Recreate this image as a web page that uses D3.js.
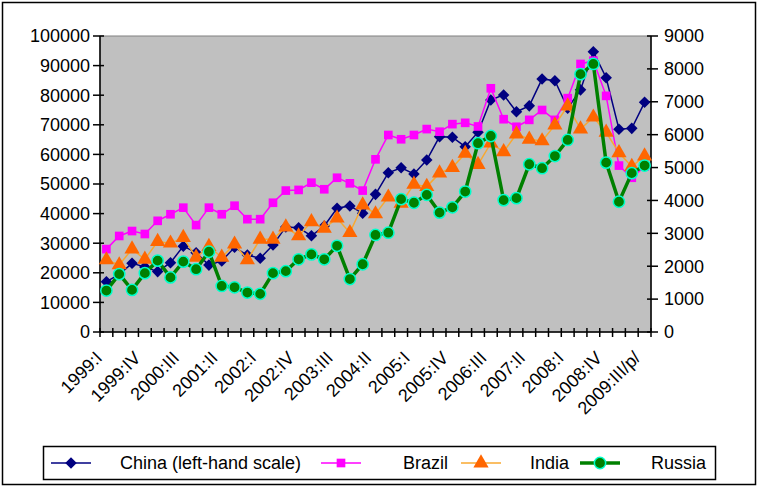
<!DOCTYPE html>
<html>
<head>
<meta charset="utf-8">
<script src="https://cdn.jsdelivr.net/npm/d3@7"></script>
<style>
  body { margin: 0; background: #fff; }
  text { font-family: "Liberation Sans", Arial, sans-serif; fill: #000; }
</style>
</head>
<body>
<svg width="759" height="488"></svg>
<script>
const quarters = ["1999:I","1999:II","1999:III","1999:IV","2000:I","2000:II","2000:III","2000:IV",
  "2001:I","2001:II","2001:III","2001:IV","2002:I","2002:II","2002:III","2002:IV",
  "2003:I","2003:II","2003:III","2003:IV","2004:I","2004:II","2004:III","2004:IV",
  "2005:I","2005:II","2005:III","2005:IV","2006:I","2006:II","2006:III","2006:IV",
  "2007:I","2007:II","2007:III","2007:IV","2008:I","2008:II","2008:III","2008:IV",
  "2009:I","2009:II","2009:III/p/"];

const shownLabels = ["1999:I","1999:IV","2000:III","2001:II","2002:I","2002:IV","2003:III",
  "2004:II","2005:I","2005:IV","2006:III","2007:II","2008:I","2008:IV","2009:III/p/"];

// China on the left-hand scale, the others on the right
const china = [17000, 19500, 23200, 22000, 20400, 23400, 29000, 26800, 22600, 24000,
  28600, 26000, 24900, 29400, 35500, 35200, 32500, 35800, 41800, 42600,
  40100, 46500, 53800, 55500, 53400, 58100, 66000, 65800, 62600, 67500,
  78400, 80100, 74400, 76400, 85500, 84900, 75600, 81800, 94700, 85900,
  68500, 68800, 77600];
const brazil = [2520, 2920, 3070, 2980, 3380, 3580, 3780, 3250, 3780, 3580,
  3840, 3430, 3430, 3930, 4300, 4320, 4540, 4340, 4690, 4520,
  4300, 5250, 5990, 5860, 5990, 6170, 6090, 6320, 6360, 6250,
  7410, 6470, 6240, 6450, 6750, 6450, 7110, 8150, 8250, 7180,
  5060, 4690, 5030];
const india = [2190, 2040, 2520, 2210, 2750, 2700, 2870, 2270, 2600, 2270,
  2670, 2190, 2820, 2820, 3190, 2920, 3350, 3150, 3460, 3020,
  3860, 3590, 4100, 3910, 4490, 4420, 4830, 5000, 5430, 5090,
  5740, 5480, 6020, 5860, 5810, 6290, 6870, 6170, 6530, 6070,
  5450, 5030, 5350];
const russia = [1260, 1760, 1280, 1790, 2170, 1660, 2140, 1910, 2440, 1400,
  1360, 1200, 1160, 1790, 1850, 2210, 2360, 2210, 2620, 1610,
  2060, 2950, 3020, 4040, 3930, 4170, 3630, 3790, 4270, 5740,
  5960, 4010, 4070, 5100, 4980, 5350, 5840, 7840, 8150, 5150,
  3960, 4830, 5060];

const leftTicks = [0, 10000, 20000, 30000, 40000, 50000, 60000, 70000, 80000, 90000, 100000];
const rightTicks = [0, 1000, 2000, 3000, 4000, 5000, 6000, 7000, 8000, 9000];

const svg = d3.select("svg");
const plot = { left: 100, right: 651, top: 36, bottom: 332 };

const x = d3.scaleBand().domain(quarters).range([plot.left, plot.right]).padding(0);
const yL = d3.scaleLinear().domain([0, 100000]).range([plot.bottom, plot.top]);
const yR = d3.scaleLinear().domain([0, 9000]).range([plot.bottom, plot.top]);
const cx = q => x(q) + x.bandwidth() / 2;

// outer frame
svg.append("rect")
  .attr("x", 2.5).attr("y", 2.5).attr("width", 753).attr("height", 482)
  .attr("fill", "#fff").attr("stroke", "#000").attr("stroke-width", 1.5);

// plot area
svg.append("rect")
  .attr("x", plot.left).attr("y", plot.top)
  .attr("width", plot.right - plot.left).attr("height", plot.bottom - plot.top)
  .attr("fill", "#c0c0c0").attr("stroke", "#808080").attr("stroke-width", 1);

// axes
const axes = svg.append("g").attr("stroke", "#000").attr("stroke-width", 1.5);
axes.append("line").attr("x1", plot.left).attr("x2", plot.left).attr("y1", plot.top).attr("y2", plot.bottom);
axes.append("line").attr("x1", plot.right).attr("x2", plot.right).attr("y1", plot.top).attr("y2", plot.bottom);
axes.append("line").attr("x1", plot.left).attr("x2", plot.right).attr("y1", plot.bottom).attr("y2", plot.bottom);

axes.selectAll(".tl").data(leftTicks).enter().append("line")
  .attr("x1", plot.left - 7).attr("x2", plot.left + 4)
  .attr("y1", d => yL(d)).attr("y2", d => yL(d));
axes.selectAll(".tr").data(rightTicks).enter().append("line")
  .attr("x1", plot.right - 4).attr("x2", plot.right + 7)
  .attr("y1", d => yR(d)).attr("y2", d => yR(d));

const bounds = quarters.map(q => x(q)).concat([plot.right]);
axes.selectAll(".tb").data(bounds).enter().append("line")
  .attr("x1", d => d).attr("x2", d => d)
  .attr("y1", plot.bottom - 4).attr("y2", plot.bottom + 5);

svg.selectAll(".ll").data(leftTicks).enter().append("text")
  .attr("x", plot.left - 10).attr("y", d => yL(d)).attr("dy", "0.35em")
  .attr("text-anchor", "end").attr("font-size", 18)
  .text(d => d);
svg.selectAll(".rl").data(rightTicks).enter().append("text")
  .attr("x", plot.right + 13).attr("y", d => yR(d)).attr("dy", "0.35em")
  .attr("font-size", 18)
  .text(d => d);

svg.selectAll(".xl").data(shownLabels).enter().append("text")
  .attr("transform", d => `translate(${cx(d) - 3},${plot.bottom + 27}) rotate(-45)`)
  .attr("text-anchor", "end").attr("font-size", 18)
  .text(d => d);

// series
const series = [
  { name: "China (left-hand scale)", values: china, y: yL, line: "#000080", width: 1.5, marker: "diamond", fill: "#000080", stroke: "none" },
  { name: "Brazil", values: brazil, y: yR, line: "#ff00ff", width: 1.5, marker: "square", fill: "#ff00ff", stroke: "none" },
  { name: "India", values: india, y: yR, line: "#f8a830", width: 1.5, marker: "triangle", fill: "#ff6600", stroke: "none" },
  { name: "Russia", values: russia, y: yR, line: "#008000", width: 3.5, marker: "circle", fill: "#008000", stroke: "#00ffcc" }
];

const symbols = {
  diamond: d3.symbol().type(d3.symbolDiamond2).size(85),
  square: d3.symbol().type(d3.symbolSquare).size(75),
  triangle: d3.symbol().type(d3.symbolTriangle).size(100),
  circle: d3.symbol().type(d3.symbolCircle).size(100)
};

series.forEach(s => {
  const line = d3.line().x((d, i) => cx(quarters[i])).y(d => s.y(d));
  svg.append("path").datum(s.values)
    .attr("d", line).attr("fill", "none")
    .attr("stroke", s.line).attr("stroke-width", s.width);
  svg.append("g").selectAll("path").data(s.values).enter().append("path")
    .attr("transform", (d, i) => `translate(${cx(quarters[i])},${s.y(d)})`)
    .attr("d", symbols[s.marker]())
    .attr("fill", s.fill).attr("stroke", s.stroke).attr("stroke-width", 1.5);
});

// legend
const legend = svg.append("g");
legend.append("rect")
  .attr("x", 43.5).attr("y", 446.5).attr("width", 672).attr("height", 33)
  .attr("fill", "#fff").attr("stroke", "#000").attr("stroke-width", 1.5);

const legendPos = [
  { sx: 51, tx: 120 },
  { sx: 321, tx: 403 },
  { sx: 461, tx: 530 },
  { sx: 580, tx: 651 }
];
series.forEach((s, i) => {
  const p = legendPos[i], ly = 463;
  legend.append("line")
    .attr("x1", p.sx).attr("x2", p.sx + 40).attr("y1", ly).attr("y2", ly)
    .attr("stroke", s.line).attr("stroke-width", s.width);
  legend.append("path")
    .attr("transform", `translate(${p.sx + 20},${ly})`)
    .attr("d", symbols[s.marker]())
    .attr("fill", s.fill).attr("stroke", s.stroke).attr("stroke-width", 1.5);
  legend.append("text")
    .attr("x", p.tx).attr("y", ly).attr("dy", "0.36em")
    .attr("font-size", 18).text(s.name);
});
</script>
</body>
</html>
